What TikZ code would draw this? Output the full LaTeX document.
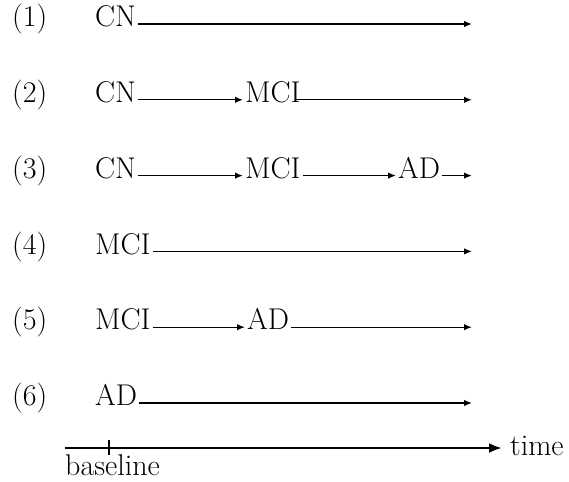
\documentclass[tikz,border=0pt]{standalone}
\usepackage{fontspec}
\usepackage{tikz}
\usetikzlibrary{arrows.meta, positioning, calc}

\begin{document}
\begin{tikzpicture}[x=1pt,y=-1pt,
	state/.style={anchor=west, inner sep=2pt, text height=0.7em, text depth=0.15em, font=\fontsize{30}{35}\selectfont},
	trans/.style={line width=1.4pt, -{Latex[length=8pt,width=6.5pt]}},
	flat/.style={line width=1.4pt}]
	\useasboundingbox (0,0) rectangle (569,481);
	% row numbers
	\foreach \i/\y in {1/24,2/99.8,3/175.6,4/251.4,5/327.2,6/403}
		\node[state] (num\i) at (10,\y) {(\i)};
	% (1)
	\node[state] (cnA) at (93,24) {CN};
	\coordinate (endA) at (472,24);
	\draw[trans] (cnA) -- (endA);
	% (2)
	\node[state] (cnB) at (93,99.8) {CN};
	\node[state] (mciB) at (243,99.8) {MCI};
	\coordinate (endB) at (472,99.8);
	\draw[trans] (cnB) -- (mciB);
	\draw[trans] ([xshift=-8pt]mciB.east) -- (endB);
	% (3)
	\node[state] (cnC) at (93,175.6) {CN};
	\node[state] (mciC) at (243,175.6) {MCI};
	\node[state] (adC) at (396,175.6) {AD};
	\coordinate (endC) at (472,175.6);
	\draw[trans] (cnC) -- (mciC);
	\draw[trans] (mciC) -- (adC);
	\draw[trans] (adC) -- (endC);
	% (4)
	\node[state] (mciD) at (93,251.4) {MCI};
	\coordinate (endD) at (472,251.4);
	\draw[trans] (mciD) -- (endD);
	% (5)
	\node[state] (mciE) at (93,327.2) {MCI};
	\node[state] (adE) at (245,327.2) {AD};
	\coordinate (endE) at (472,327.2);
	\draw[trans] (mciE) -- (adE);
	\draw[trans] (adE) -- (endE);
	% (6)
	\node[state] (adF) at (93,403) {AD};
	\coordinate (endF) at (472,403);
	\draw[trans] (adF) -- (endF);
	% time axis
	\coordinate (axisL) at (65,448);
	\coordinate (axisR) at (502,448);
	\draw[line width=2.8pt, -{Latex[length=13pt,width=10pt]}] (axisL) -- (axisR);
	\draw[flat, line width=1.8pt] (109,440) -- (109,455);
	\node[anchor=base west, inner sep=0pt, font=\fontsize{30}{35}\selectfont] (timeLbl) at (510,455) {time};
	\node[anchor=base west, inner sep=0pt, font=\fontsize{30}{35}\selectfont] (baseLbl) at (65,475) {baseline};
\end{tikzpicture}
\end{document}
